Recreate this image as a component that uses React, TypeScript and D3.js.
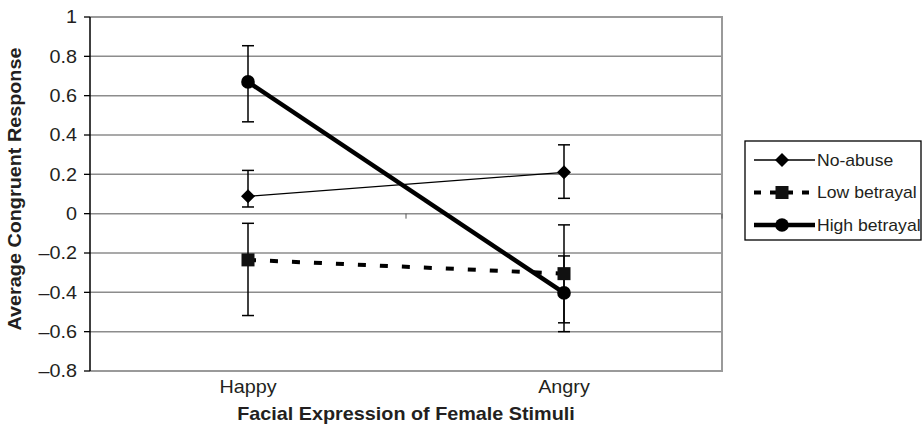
import * as d3 from 'd3';

// categories on the x axis
const categories = ['Happy', 'Angry'];
const yTicks = [-0.8, -0.6, -0.4, -0.2, 0, 0.2, 0.4, 0.6, 0.8, 1];

// series means and error bar ends (low, high)
const noAbuse = [0.088, 0.21];
const noAbuseErr = [[0.034, 0.22], [0.078, 0.35]];
const lowBetrayal = [-0.235, -0.305];
const lowBetrayalErr = [[-0.518, -0.049], [-0.555, -0.057]];
const highBetrayal = [0.67, -0.403];
const highBetrayalErr = [[0.467, 0.854], [-0.6, -0.215]];

const seriesNames = ['No-abuse', 'Low betrayal', 'High betrayal'];

const W = 923;
const H = 429;
const left = 90, right = 722, top = 17, bottom = 371;
const stretch = 1.1; // the original lettering is a bit wide

const fmt = (v: number) => (v < 0 ? '\u2013' + d3.format('')(Math.abs(v)) : d3.format('')(v));

function Marker({ kind, x, y }: { kind: string; x: number; y: number }) {
  if (kind === 'diamond') {
    const s = 7;
    return <path d={`M${x},${y - s}L${x + s},${y}L${x},${y + s}L${x - s},${y}Z`} fill="#000" />;
  }
  if (kind === 'square') {
    return <rect x={x - 6.5} y={y - 6.5} width={13} height={13} fill="#111" />;
  }
  return <circle cx={x} cy={y} r={6.8} fill="#000" />;
}

function Label({ x, y, rotate = 0, anchor = 'start', size, bold, dy, children }: any) {
  return (
    <text
      transform={`translate(${x},${y}) rotate(${rotate}) scale(${stretch},1)`}
      textAnchor={anchor} fontSize={size} fontWeight={bold ? 'bold' : 'normal'} dy={dy} fill="#231f20"
    >{children}</text>
  );
}

export default function App() {
  const x = d3.scaleBand().domain(categories).range([left, right]);
  const y = d3.scaleLinear().domain([-0.8, 1]).range([bottom, top]);
  const cx = (c: string) => (x(c) as number) + x.bandwidth() / 2;

  const series = [
    { name: seriesNames[0], vals: noAbuse, err: noAbuseErr, kind: 'diamond', width: 1.3, dash: '' },
    { name: seriesNames[1], vals: lowBetrayal, err: lowBetrayalErr, kind: 'square', width: 4, dash: '8,14' },
    { name: seriesNames[2], vals: highBetrayal, err: highBetrayalErr, kind: 'circle', width: 4.5, dash: '' },
  ];

  const line = d3.line<[number, number]>().x(d => d[0]).y(d => d[1]);
  const font = 'Liberation Sans, Arial, sans-serif';
  const legendY = [160, 192.5, 225];

  return (
    <svg width={W} height={H} style={{ position: 'absolute', left: 0, top: 0, background: '#fff' }} fontFamily={font}>
      {/* grid lines */}
      {yTicks.filter(t => t > -0.8 && t < 1).map(t => (
        <line key={t} x1={left} x2={right} y1={y(t)} y2={y(t)} stroke="#8c8c8c" strokeWidth={1.5} />
      ))}
      {/* plot border */}
      <path d={`M${left},${top}H${right}V${bottom}H${left}`} fill="none" stroke="#9a9a9a" strokeWidth={2} />
      {/* category tick marks on the zero line */}
      {[left + x.bandwidth(), right].map((v, i) => (
        <line key={i} x1={v} x2={v} y1={y(0)} y2={y(0) + 5} stroke="#555" strokeWidth={1} />
      ))}
      {/* y axis */}
      <line x1={left} x2={left} y1={top} y2={bottom} stroke="#000" strokeWidth={1.5} />
      {yTicks.map(t => (
        <g key={t}>
          <line x1={left - 6} x2={left} y1={y(t)} y2={y(t)} stroke="#000" strokeWidth={1.3} />
          <Label x={77} y={y(t)} dy="0.36em" anchor="end" size={18}>{fmt(t)}</Label>
        </g>
      ))}
      {categories.map(c => (
        <Label key={c} x={cx(c)} y={393} anchor="middle" size={18}>{c}</Label>
      ))}
      <Label x={406} y={420} anchor="middle" size={18} bold>Facial Expression of Female Stimuli</Label>
      <Label x={21} y={189} rotate={-90} anchor="middle" size={18} bold>Average Congruent Response</Label>

      {/* error bars */}
      {series.map(s => s.err.map((e, i) => {
        const px = cx(categories[i]);
        return (
          <g key={s.name + i} stroke="#000" strokeWidth={1.5}>
            <line x1={px} x2={px} y1={y(e[0])} y2={y(e[1])} />
            <line x1={px - 6} x2={px + 6} y1={y(e[0])} y2={y(e[0])} />
            <line x1={px - 6} x2={px + 6} y1={y(e[1])} y2={y(e[1])} />
          </g>
        );
      }))}

      {/* series lines and markers */}
      {series.map(s => (
        <g key={s.name}>
          <path
            d={line(s.vals.map((v, i) => [cx(categories[i]), y(v)] as [number, number])) || ''}
            fill="none" stroke="#000" strokeWidth={s.width} strokeDasharray={s.dash || undefined}
          />
          {s.vals.map((v, i) => <Marker key={i} kind={s.kind} x={cx(categories[i])} y={y(v)} />)}
        </g>
      ))}

      {/* legend */}
      <rect x={745} y={141} width={176} height={99} fill="#fff" stroke="#000" strokeWidth={1.3} />
      {series.map((s, i) => (
        <g key={s.name}>
          <line x1={754} x2={815} y1={legendY[i]} y2={legendY[i]} stroke="#000" strokeWidth={s.width}
            strokeDasharray={s.dash ? '7,9' : undefined} />
          <Marker kind={s.kind} x={782} y={legendY[i]} />
          <Label x={817} y={legendY[i]} dy="0.36em" size={16}>{s.name}</Label>
        </g>
      ))}
    </svg>
  );
}
